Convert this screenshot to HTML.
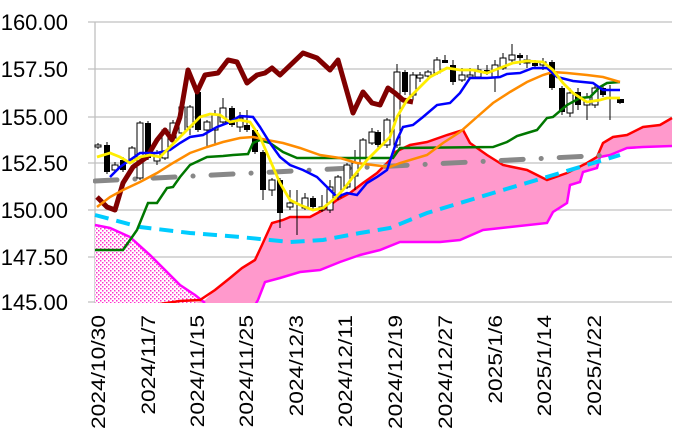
<!DOCTYPE html>
<html><head><meta charset="utf-8"><style>
html,body{margin:0;padding:0;background:#fff;}
svg{display:block;font-family:"Liberation Sans",sans-serif;}
</style></head><body>
<svg width="682" height="438" viewBox="0 0 682 438">
<defs>
<pattern id="dots" width="4" height="4" patternUnits="userSpaceOnUse">
<rect width="4" height="4" fill="#fff"/><rect x="0" y="0" width="1.5" height="1.5" fill="#ff33cc"/><rect x="2" y="2" width="1.5" height="1.5" fill="#ff33cc"/>
</pattern>
<clipPath id="plot"><rect x="93" y="15" width="589" height="288"/></clipPath>
</defs>
<g stroke="#c0c0c0" stroke-width="1.3">
<line x1="88" y1="22" x2="672" y2="22"/><line x1="88" y1="69" x2="672" y2="69"/>
<line x1="88" y1="117" x2="672" y2="117"/><line x1="88" y1="163" x2="672" y2="163"/>
<line x1="88" y1="210" x2="672" y2="210"/><line x1="88" y1="257" x2="672" y2="257"/>
<line x1="88" y1="302" x2="672" y2="302"/>
<line x1="95" y1="22" x2="95" y2="303"/>
</g>
<g font-size="22" fill="#000" text-anchor="end">
<text x="68" y="30">160.00</text><text x="68" y="77">157.50</text>
<text x="68" y="125">155.00</text><text x="68" y="171">152.50</text>
<text x="68" y="218">150.00</text><text x="68" y="265">147.50</text>
<text x="68" y="310">145.00</text>
</g>
<g font-size="19" fill="#000" text-anchor="end">
<text transform="translate(105,315) rotate(-90) scale(1.2,1)">2024/10/30</text>
<text transform="translate(155,315) rotate(-90) scale(1.2,1)">2024/11/7</text>
<text transform="translate(204,315) rotate(-90) scale(1.2,1)">2024/11/15</text>
<text transform="translate(253,315) rotate(-90) scale(1.2,1)">2024/11/25</text>
<text transform="translate(303,315) rotate(-90) scale(1.2,1)">2024/12/3</text>
<text transform="translate(352,315) rotate(-90) scale(1.2,1)">2024/12/11</text>
<text transform="translate(402,315) rotate(-90) scale(1.2,1)">2024/12/19</text>
<text transform="translate(452,315) rotate(-90) scale(1.2,1)">2024/12/27</text>
<text transform="translate(502,315) rotate(-90) scale(1.2,1)">2025/1/6</text>
<text transform="translate(551,315) rotate(-90) scale(1.2,1)">2025/1/14</text>
<text transform="translate(601,315) rotate(-90) scale(1.2,1)">2025/1/22</text>
</g>
<g clip-path="url(#plot)">
<polygon fill="url(#dots)" points="95,225 110,228 130,237 150,255 165,270 180,285 195,295 205,303 95,303"/>
<polygon fill="#ff99cc" points="195,303 205,300 215,290 230,278 242,268 255,260 262,245 272,223 283,220 290,217 310,217 323,210 337,200 350,193 363,183 377,173 390,160 393,153 410,145 427,142 447,135 463,130 470,143 487,155 503,165 527,170 547,180 567,173 587,163 597,157 603,143 613,137 627,135 643,127 660,125 672,118 672,146 643,147 627,148 610,155 600,157 597,168 583,172 580,182 570,185 567,203 553,212 547,223 483,230 460,240 440,242 400,242 380,250 360,255 340,262 320,270 300,272 280,278 265,282 258,300 255,303"/>
<polyline fill="none" stroke="#ff00ff" stroke-width="2.5" points="95,225 110,228 130,237 150,255 165,270 180,285 195,295 205,303"/>
<polyline fill="none" stroke="#ff00ff" stroke-width="2.5" points="255,305 258,300 265,282 280,278 300,272 320,270 340,262 360,255 380,250 400,242 440,242 460,240 483,230 547,223 553,212 567,203 570,185 580,182 583,172 597,168 600,157 610,155 627,148 643,147 672,146"/>
<polyline fill="none" stroke="#ff0000" stroke-width="2.5" points="160,304 180,301 200,300 215,290 230,278 242,268 255,260 262,245 272,223 283,220 290,217 310,217 323,210 337,200 350,193 363,183 377,173 390,160 393,153 410,145 427,142 447,135 463,130 470,143 487,155 503,165 527,170 547,180 567,173 587,163 597,157 603,143 613,137 627,135 643,127 660,125 672,118"/>
<line x1="95" y1="181" x2="610" y2="155" stroke="#888" stroke-width="5" stroke-linecap="round" stroke-dasharray="22 18 0.1 18"/>
<polyline fill="none" stroke="#00ccff" stroke-width="4" stroke-dasharray="14 8" points="95,215 140,227 190,233 240,237 290,242 323,240 360,233 390,228 427,213 493,193 560,173 620,155"/>
<g stroke="#000" stroke-width="1">
<path d="M98,143V149M107,142V174M115,162V172M123,157V172M132,146V162M140,121V180M148,121V160M157,150V165M165,128V160M173,120V140M182,105V135M190,105V135M198,90V132M207,120V148M215,110V144M223,98V124M232,106V127M240,112V132M247,110V132M255,128V154M263,150V200M272,178V196M280,178V228M290,190V210M297,190V235M305,193V210M313,196V209M322,195V212M330,180V213M338,175V200M347,163V189M355,150V190M363,138V166M372,128V145M378,130V150M387,118V148M397,64V148M405,70V95M413,72V100M420,72V82M428,70V80M437,57V75M445,55V63M453,60V85M462,68V82M470,68V78M478,65V78M487,65V75M495,60V92M503,53V70M512,44V62M520,53V65M527,55V68M535,60V68M543,58V70M552,60V90M562,86V115M570,88V117M578,88V110M587,93V120M595,85V108M603,85V97M610,85V120M620,99V104"/>
</g>
<g fill="#fff" stroke="#000" stroke-width="1">
<rect x="95" y="145" width="6" height="2"/><rect x="112" y="165" width="6" height="5"/><rect x="129" y="148" width="6" height="12"/>
<rect x="137" y="123" width="6" height="55"/><rect x="154" y="153" width="6" height="8"/><rect x="162" y="130" width="6" height="28"/>
<rect x="170" y="123" width="6" height="15"/><rect x="179" y="107" width="6" height="26"/><rect x="187" y="107" width="6" height="20"/>
<rect x="204" y="122" width="6" height="8"/><rect x="212" y="115" width="6" height="15"/><rect x="220" y="108" width="6" height="14"/>
<rect x="237" y="118" width="6" height="9"/><rect x="269" y="180" width="6" height="10"/><rect x="287" y="203" width="6" height="4"/>
<rect x="302" y="198" width="6" height="10"/><rect x="319" y="207" width="6" height="3"/><rect x="327" y="187" width="6" height="23"/>
<rect x="335" y="177" width="6" height="20"/><rect x="344" y="165" width="6" height="22"/><rect x="352" y="163" width="6" height="13"/>
<rect x="360" y="140" width="6" height="23"/><rect x="369" y="132" width="6" height="11"/><rect x="384" y="120" width="6" height="25"/>
<rect x="394" y="72" width="6" height="73"/><rect x="410" y="75" width="6" height="20"/><rect x="417" y="75" width="6" height="3"/>
<rect x="425" y="72" width="6" height="4"/><rect x="434" y="60" width="6" height="13"/><rect x="459" y="75" width="6" height="5"/>
<rect x="467" y="75" width="6" height="2"/><rect x="475" y="70" width="6" height="7"/><rect x="492" y="65" width="6" height="13"/>
<rect x="500" y="58" width="6" height="10"/><rect x="509" y="55" width="6" height="5"/><rect x="524" y="60" width="6" height="3"/>
<rect x="540" y="62" width="6" height="3"/><rect x="567" y="93" width="6" height="20"/><rect x="584" y="97" width="6" height="8"/>
<rect x="592" y="88" width="6" height="17"/>
</g>
<g fill="#000">
<rect x="104" y="145" width="6" height="27"/><rect x="120" y="160" width="6" height="10"/><rect x="145" y="123" width="6" height="35"/>
<rect x="195" y="92" width="6" height="38"/><rect x="229" y="108" width="6" height="17"/><rect x="244" y="125" width="6" height="5"/>
<rect x="252" y="130" width="6" height="22"/><rect x="260" y="152" width="6" height="38"/><rect x="277" y="180" width="6" height="33"/>
<rect x="310" y="198" width="6" height="9"/><rect x="375" y="132" width="6" height="13"/><rect x="402" y="72" width="6" height="20"/>
<rect x="442" y="60" width="6" height="3"/><rect x="450" y="65" width="6" height="17"/><rect x="484" y="70" width="6" height="3"/>
<rect x="517" y="55" width="6" height="3"/><rect x="532" y="63" width="6" height="3"/><rect x="549" y="62" width="6" height="26"/>
<rect x="559" y="88" width="6" height="24"/><rect x="575" y="92" width="6" height="13"/><rect x="600" y="88" width="6" height="7"/>
<rect x="617" y="99" width="7" height="4"/>
</g>
<polyline fill="none" stroke="#800000" stroke-width="5" stroke-linejoin="round" points="97,197 107,207 115,210 123,183 133,167 147,157 157,140 165,130 172,140 180,117 188,70 197,92 205,75 218,73 228,60 237,62 247,83 257,75 265,73 272,68 280,75 303,53 317,58 330,70 338,60 353,113 363,92 372,103 380,105 388,88 395,93 403,100 413,102"/>
<polyline fill="none" stroke="#007700" stroke-width="2.5" points="95,250 123,250 137,230 148,203 157,203 167,188 173,187 180,177 190,165 207,157 223,156 233,155 248,154 253,143 260,140 270,143 283,152 297,158 393,158 400,148 493,147 507,142 517,136 527,133 537,130 547,118 553,117 567,105 580,98 590,97 600,87 607,83 620,82"/>
<polyline fill="none" stroke="#ff8c00" stroke-width="2.5" points="97,207 110,197 123,190 140,182 157,173 173,163 190,153 207,147 223,142 240,138 253,137 267,140 283,143 300,148 320,155 340,158 357,163 373,165 390,167 400,163 427,155 443,143 460,132 477,117 493,103 510,92 527,82 543,75 553,72 567,73 587,75 603,77 620,82"/>
<polyline fill="none" stroke="#0000ff" stroke-width="2.5" points="110,177 120,167 130,160 140,153 157,153 170,150 180,143 190,137 203,135 217,127 230,122 240,116 253,117 260,127 270,143 280,157 290,165 303,170 317,177 327,187 337,197 347,193 357,195 367,183 377,177 387,170 397,140 403,127 413,125 423,117 437,105 450,103 460,93 470,78 487,78 500,77 507,74 520,73 533,68 547,68 557,77 573,81 593,83 603,90 620,90"/>
<polyline fill="none" stroke="#ffee00" stroke-width="2.8" points="97,157 110,153 120,157 130,163 140,157 150,155 160,157 170,147 180,137 190,127 200,117 210,114 220,115 230,122 240,120 250,122 260,137 270,160 280,183 290,200 300,205 313,210 323,208 333,200 343,190 353,177 367,160 380,147 390,137 397,117 407,100 420,87 430,77 447,68 460,70 473,70 487,73 500,68 513,63 527,61 543,62 553,70 563,83 573,93 587,102 600,100 607,98 620,98"/>
</g>
</svg>
</body></html>
